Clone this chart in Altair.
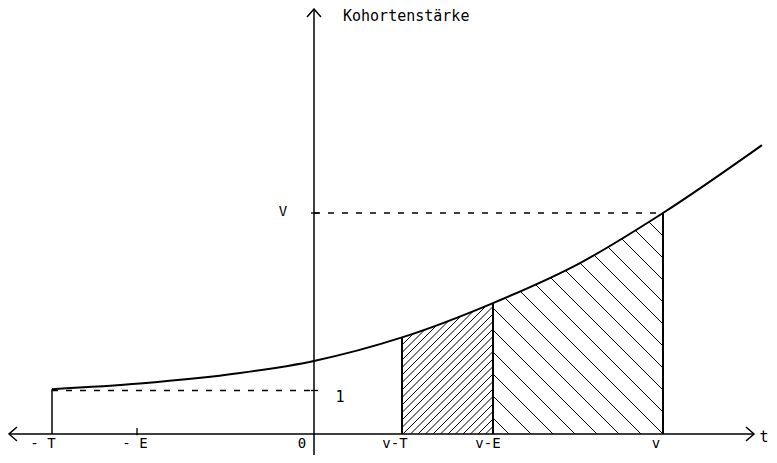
import altair as alt
import pandas as pd

# ---- values (t: 1 unit = 100 px, y: 1 unit = cohort size 1) ----
tick_labels = ["- T", "- E", "0", "v-T", "v-E", "v"]
tick_t = [-2.62, -1.77, 0.0, 0.88, 1.79, 3.49]
label_t = [-2.71, -1.79, -0.12, 0.81, 1.74, 3.42]

curve_t = [-2.62, -1.74, -0.74, 0.0, 0.88, 1.79, 2.66, 3.49, 4.48]
curve_y = [1.03, 1.16, 1.40, 1.68, 2.22, 3.01, 3.93, 5.08, 6.64]

level_one = 1.0
level_V = 5.08

y_label = "Kohortenstärke"
x_label = "t"

# ---- scales ----
XMIN, XMAX = -3.06, 4.55
YMIN, YMAX = -0.483, 9.793
xs = alt.Scale(domain=[XMIN, XMAX], nice=False, zero=False)
ys = alt.Scale(domain=[YMIN, YMAX], nice=False, zero=False)
FONT = "DejaVu Sans Mono"


def X(f="x"):
    return alt.X(f"{f}:Q", scale=xs, axis=None)


def Y(f="y"):
    return alt.Y(f"{f}:Q", scale=ys, axis=None)


# ---- hatch segments (45 degrees on screen) ----
S = 100 / 43.5
cap = 7.0
a, b, v = tick_t[3], tick_t[4], tick_t[5]
fine, coarse = [], []
c = b
while c > a - cap / S:
    x1, x2 = max(a, c), min(b, c + cap / S)
    if x2 > x1:
        fine.append(dict(x=x1, y=S * (x1 - c), x2=x2, y2=S * (x2 - c)))
    c -= 0.075
cs = []
c = v
while c > b:
    cs.append(c)
    c -= 0.22
c = v + 0.22
while c < v + cap / S:
    cs.append(c)
    c += 0.22
for c in cs:
    x1, x2 = max(b, c - cap / S), min(v, c)
    if x2 > x1:
        coarse.append(dict(x=x1, y=S * (c - x1), x2=x2, y2=S * (c - x2)))

hatch_fine = alt.Chart(pd.DataFrame(fine)).mark_rule(color="black", strokeWidth=1).encode(
    x=X(), y=Y(), x2="x2:Q", y2="y2:Q")
hatch_coarse = alt.Chart(pd.DataFrame(coarse)).mark_rule(color="black", strokeWidth=1).encode(
    x=X(), y=Y(), x2="x2:Q", y2="y2:Q")

curve_df = pd.DataFrame({"x": curve_t, "y": curve_y, "top": YMAX})
mask = alt.Chart(curve_df).mark_area(color="white", opacity=1, interpolate="monotone").encode(
    x=X(), y=Y(), y2="top:Q")
curve = alt.Chart(curve_df).mark_line(color="black", strokeWidth=2, interpolate="monotone").encode(
    x=X(), y=Y())

# dashed guide lines
dash_df = pd.DataFrame({
    "x": [tick_t[0], 0.0], "x2": [0.0, tick_t[5]],
    "y": [level_one, level_V],
})
dashes = alt.Chart(dash_df).mark_rule(color="black", strokeWidth=1.3, strokeDash=[6, 8]).encode(
    x=X(), x2="x2:Q", y=Y())

# vertical boundaries up to the curve
idx = [0, 4, 5, 7]
vert_df = pd.DataFrame({"x": [curve_t[i] for i in idx], "y": 0.0,
                        "y2": [curve_y[i] for i in idx],
                        "w": [1.5, 2, 2, 2]})
verts = alt.Chart(vert_df).mark_rule(color="black").encode(
    x=X(), y=Y(), y2="y2:Q", strokeWidth=alt.StrokeWidth("w:Q", scale=None))

# axes
xaxis = alt.Chart(pd.DataFrame({"x": [-3.05], "x2": [4.40], "y": [0.0]})).mark_rule(
    color="black", strokeWidth=1.5).encode(x=X(), x2="x2:Q", y=Y())
yaxis = alt.Chart(pd.DataFrame({"x": [0.0], "y": [YMIN], "y2": [9.77]})).mark_rule(
    color="black", strokeWidth=1.5).encode(x=X(), y=Y(), y2="y2:Q")

arrow_df = pd.DataFrame({"x": [4.40, -3.05, 0.0], "y": [0.0, 0.0, 9.77], "ang": [0, 180, 270]})
arrows = alt.Chart(arrow_df).mark_point(
    shape="M-1,-0.875L0,0L-1,0.875", size=256, filled=False, color="black",
    strokeWidth=1.5, opacity=1).encode(x=X(), y=Y(), angle=alt.Angle("ang:Q", scale=None))

# small ticks
tick_df = pd.DataFrame({
    "x": [tick_t[1], -0.03, -0.03], "x2": [tick_t[1], 0.04, 0.05],
    "y": [0.14, level_one, level_V], "y2": [-0.03, level_one, level_V],
})
ticks = alt.Chart(tick_df).mark_rule(color="black", strokeWidth=1.3).encode(
    x=X(), x2="x2:Q", y=Y(), y2="y2:Q")

# texts
lab_df = pd.DataFrame({"x": label_t, "y": -0.23, "t": tick_labels})
labels = alt.Chart(lab_df).mark_text(font=FONT, fontSize=14, color="black",
                                     align="center", baseline="middle").encode(
    x=X(), y=Y(), text="t:N")

txt_df = pd.DataFrame({
    "x": [0.29, -0.31, 0.26, 4.50],
    "y": [9.60, 5.10, 0.85, -0.07],
    "t": [y_label, "V", "1", x_label],
    "al": ["left", "center", "center", "center"],
    "fs": [15, 14, 15, 15],
})
txt_left = alt.Chart(txt_df[txt_df.al == "left"]).mark_text(
    font=FONT, color="black", align="left", baseline="middle").encode(
    x=X(), y=Y(), text="t:N", size=alt.Size("fs:Q", scale=None))
txt_center = alt.Chart(txt_df[txt_df.al == "center"]).mark_text(
    font=FONT, color="black", align="center", baseline="middle").encode(
    x=X(), y=Y(), text="t:N", size=alt.Size("fs:Q", scale=None))

chart = alt.layer(
    hatch_fine, hatch_coarse, mask, dashes, xaxis, yaxis, verts, curve,
    arrows, ticks, labels, txt_left, txt_center,
).properties(
    width=761, height=447, padding=0,
    autosize=alt.AutoSizeParams(type="none"),
    background="white",
).configure_view(stroke=None)

chart.save("out.html", embed_options={"renderer": "svg", "actions": False})
